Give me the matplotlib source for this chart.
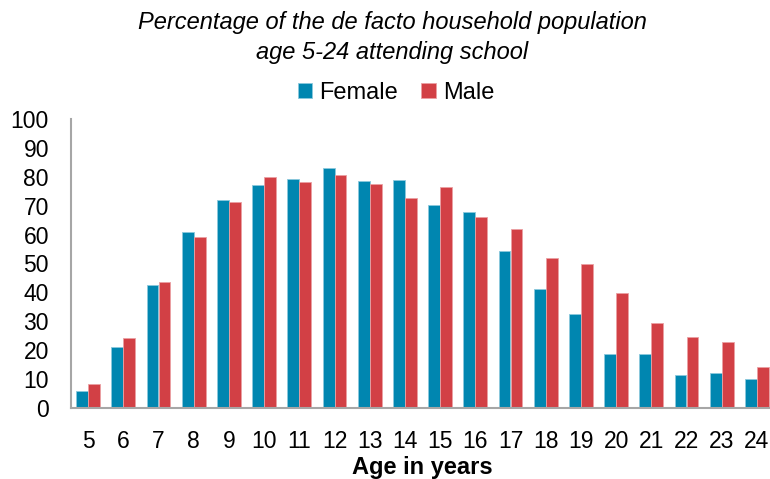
import matplotlib
matplotlib.use("Agg")
import matplotlib.pyplot as plt
import numpy as np

plt.rcParams['font.family'] = ['Liberation Sans', 'DejaVu Sans']

ages = ["5", "6", "7", "8", "9", "10", "11", "12", "13", "14",
        "15", "16", "17", "18", "19", "20", "21", "22", "23", "24"]
female = [5.8, 21.0, 42.5, 60.8, 72.0, 77.1, 79.2, 83.1, 78.6, 79.0,
          70.4, 67.9, 54.3, 41.0, 32.5, 18.6, 18.7, 11.2, 12.0, 9.9]
male = [8.1, 24.0, 43.6, 59.1, 71.4, 80.0, 78.4, 80.6, 77.6, 72.8,
        76.5, 66.1, 62.0, 51.8, 49.8, 39.9, 29.5, 24.6, 22.9, 14.1]
yticks = [0, 10, 20, 30, 40, 50, 60, 70, 80, 90, 100]

c_f = "#0086B0"
c_m = "#D24045"

fig = plt.figure(figsize=(7.70, 4.79), dpi=100)
ax = fig.add_axes([70.5/770, 71.3/479, 704/770, 288.4/479])

x = np.arange(len(ages))
w = 0.34
ax.bar(x - w/2, female, width=w, color=c_f, edgecolor="#8cc8dc", linewidth=0.6, label="Female")
ax.bar(x + w/2, male, width=w, color=c_m, edgecolor="#eba0a3", linewidth=0.6, label="Male")

ax.set_xlim(-0.5, len(ages) - 0.5)
ax.set_ylim(0, 100)
ax.set_yticks(yticks)
ax.set_xticks(x)
ax.set_xticklabels(ages)
ax.tick_params(axis='y', length=0, pad=15.5, labelsize=16.5)
ax.tick_params(axis='x', length=0, pad=16, labelsize=16.5)
for s in ["top", "right"]:
    ax.spines[s].set_visible(False)
for s in ["left", "bottom"]:
    ax.spines[s].set_color("#A6A6A6")
    ax.spines[s].set_linewidth(1.5)

ax.set_xlabel("Age in years", fontsize=17, fontweight="bold", labelpad=2)

fig.text(392/770, 1 - 22/479, "Percentage of the de facto household population",
         ha="center", va="center", fontsize=17, style="italic")
fig.text(392/770, 1 - 52/479, "age 5-24 attending school",
         ha="center", va="center", fontsize=17, style="italic")

fig.legend(loc="center", bbox_to_anchor=(396/770, 1 - 93/479), ncol=2, frameon=False,
           fontsize=17, handlelength=0.6, handleheight=0.6, handletextpad=0.3,
           columnspacing=1.0, borderpad=0)

fig.savefig("out.png", dpi=100)
